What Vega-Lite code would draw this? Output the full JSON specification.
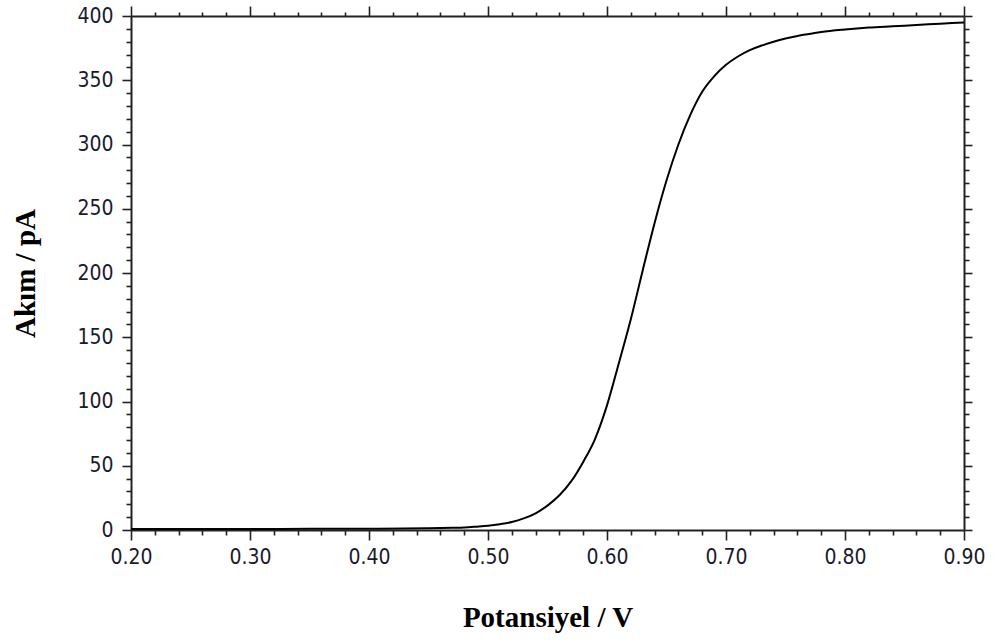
{
  "$schema": "https://vega.github.io/schema/vega-lite/v6.json",
  "width": 833,
  "height": 514,
  "autosize": {"type": "none"},
  "padding": {"left": 131, "top": 16, "right": 31, "bottom": 114},
  "background": "white",
  "config": {
    "view": {"stroke": null},
    "axis": {
      "grid": false,
      "domainColor": "#222222",
      "domainWidth": 2,
      "tickColor": "#222222",
      "tickWidth": 1.6,
      "labelFont": "Liberation Sans Narrow, Arial Narrow, DejaVu Sans Condensed, sans-serif",
      "labelFontSize": 21,
      "labelColor": "#1a1a2e",
      "titleFont": "Liberation Serif, Times New Roman, serif",
      "titleFontWeight": "bold",
      "titleFontSize": 29,
      "titleColor": "#000000"
    }
  },
  "data": {
    "values": [
      {"E": 0.20, "I": 0.8}, {"E": 0.25, "I": 0.8}, {"E": 0.30, "I": 0.8},
      {"E": 0.35, "I": 0.9}, {"E": 0.40, "I": 1.0}, {"E": 0.43, "I": 1.1},
      {"E": 0.45, "I": 1.3}, {"E": 0.47, "I": 1.7}, {"E": 0.48, "I": 2.0},
      {"E": 0.49, "I": 2.6}, {"E": 0.50, "I": 3.3}, {"E": 0.51, "I": 4.5},
      {"E": 0.52, "I": 6.2}, {"E": 0.53, "I": 9}, {"E": 0.54, "I": 13},
      {"E": 0.55, "I": 19}, {"E": 0.56, "I": 27}, {"E": 0.57, "I": 38},
      {"E": 0.58, "I": 53}, {"E": 0.59, "I": 71}, {"E": 0.60, "I": 97},
      {"E": 0.61, "I": 130}, {"E": 0.62, "I": 164}, {"E": 0.63, "I": 202},
      {"E": 0.64, "I": 239}, {"E": 0.65, "I": 272}, {"E": 0.66, "I": 300},
      {"E": 0.67, "I": 323}, {"E": 0.68, "I": 341}, {"E": 0.69, "I": 353},
      {"E": 0.70, "I": 362}, {"E": 0.71, "I": 368.5}, {"E": 0.72, "I": 373.5},
      {"E": 0.73, "I": 377}, {"E": 0.74, "I": 380}, {"E": 0.75, "I": 382.5},
      {"E": 0.76, "I": 384.5}, {"E": 0.77, "I": 386}, {"E": 0.78, "I": 387.5},
      {"E": 0.80, "I": 389.5}, {"E": 0.82, "I": 391}, {"E": 0.84, "I": 392},
      {"E": 0.86, "I": 393}, {"E": 0.88, "I": 394}, {"E": 0.90, "I": 395}
    ]
  },
  "resolve": {"axis": {"x": "independent", "y": "independent"}},
  "layer": [
    {
      "mark": {"type": "line", "color": "#000000", "strokeWidth": 2, "interpolate": "monotone"},
      "encoding": {
        "x": {
          "field": "E", "type": "quantitative",
          "scale": {"domain": [0.2, 0.9], "nice": false, "zero": false},
          "axis": {
            "orient": "bottom", "title": "Potansiyel / V",
            "values": [0.2, 0.3, 0.4, 0.5, 0.6, 0.7, 0.8, 0.9],
            "format": ".2f", "tickSize": 10, "labelPadding": 6,
            "titlePadding": 36, "labelFlush": false
          }
        },
        "y": {
          "field": "I", "type": "quantitative",
          "scale": {"domain": [0, 400], "nice": false},
          "axis": {
            "orient": "left", "title": "Akım / pA",
            "values": [0, 50, 100, 150, 200, 250, 300, 350, 400],
            "tickSize": 9, "labelPadding": 9, "titlePadding": 36, "labelFlush": false
          }
        }
      }
    },
    {
      "mark": {"type": "line", "strokeOpacity": 0},
      "encoding": {
        "x": {
          "field": "E", "type": "quantitative",
          "axis": {
            "orient": "top", "title": null, "labels": false,
            "values": [0.2, 0.3, 0.4, 0.5, 0.6, 0.7, 0.8, 0.9], "tickSize": 10
          }
        },
        "y": {
          "field": "I", "type": "quantitative",
          "axis": {
            "orient": "right", "title": null, "labels": false,
            "values": [0, 50, 100, 150, 200, 250, 300, 350, 400], "tickSize": 8
          }
        }
      }
    },
    {
      "mark": {"type": "line", "strokeOpacity": 0},
      "encoding": {
        "x": {
          "field": "E", "type": "quantitative",
          "axis": {
            "orient": "bottom", "title": null, "labels": false, "domain": false,
            "values": [0.22, 0.24, 0.26, 0.28, 0.32, 0.34, 0.36, 0.38, 0.42, 0.44, 0.46, 0.48, 0.52, 0.54, 0.56, 0.58, 0.62, 0.64, 0.66, 0.68, 0.72, 0.74, 0.76, 0.78, 0.82, 0.84, 0.86, 0.88],
            "tickSize": 5
          }
        },
        "y": {
          "field": "I", "type": "quantitative",
          "axis": {
            "orient": "left", "title": null, "labels": false, "domain": false,
            "values": [10, 20, 30, 40, 60, 70, 80, 90, 110, 120, 130, 140, 160, 170, 180, 190, 210, 220, 230, 240, 260, 270, 280, 290, 310, 320, 330, 340, 360, 370, 380, 390],
            "tickSize": 5
          }
        }
      }
    },
    {
      "mark": {"type": "line", "strokeOpacity": 0},
      "encoding": {
        "x": {
          "field": "E", "type": "quantitative",
          "axis": {
            "orient": "top", "title": null, "labels": false, "domain": false,
            "values": [0.22, 0.24, 0.26, 0.28, 0.32, 0.34, 0.36, 0.38, 0.42, 0.44, 0.46, 0.48, 0.52, 0.54, 0.56, 0.58, 0.62, 0.64, 0.66, 0.68, 0.72, 0.74, 0.76, 0.78, 0.82, 0.84, 0.86, 0.88],
            "tickSize": 4
          }
        },
        "y": {
          "field": "I", "type": "quantitative",
          "axis": {
            "orient": "right", "title": null, "labels": false, "domain": false,
            "values": [10, 20, 30, 40, 60, 70, 80, 90, 110, 120, 130, 140, 160, 170, 180, 190, 210, 220, 230, 240, 260, 270, 280, 290, 310, 320, 330, 340, 360, 370, 380, 390],
            "tickSize": 5
          }
        }
      }
    }
  ]
}
